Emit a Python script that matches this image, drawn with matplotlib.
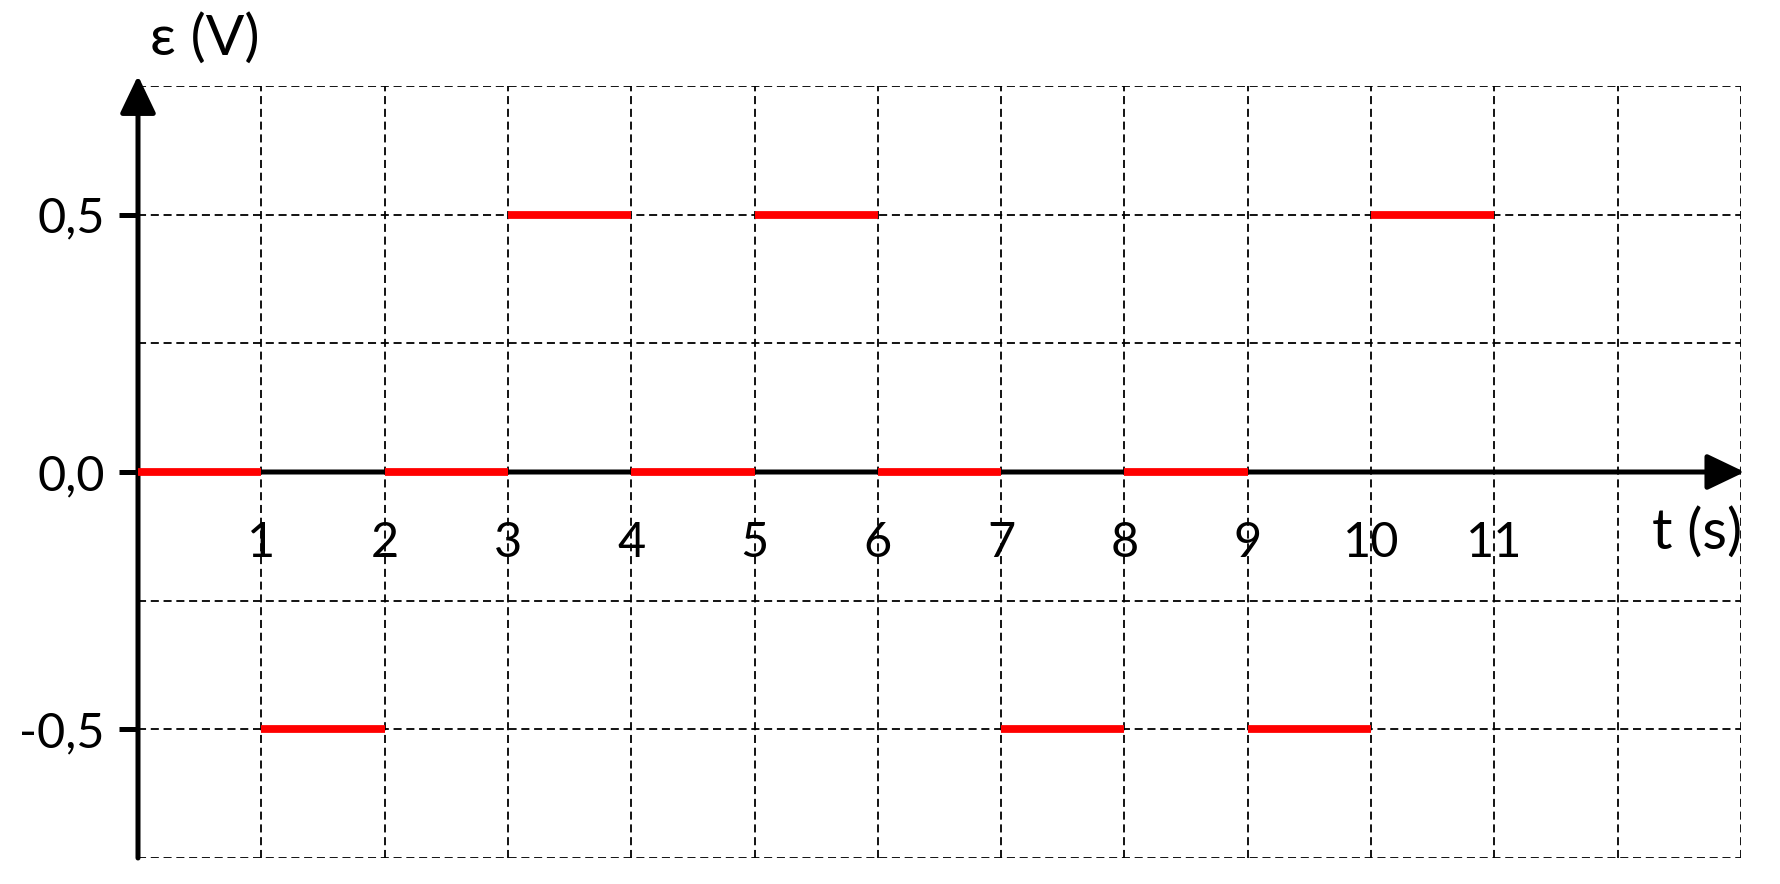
import numpy as np
import matplotlib.pyplot as plt

plt.rcParams['font.family'] = ['Lato', 'DejaVu Sans']
plt.rcParams['lines.scale_dashes'] = False

# segments of the emf, one per second
t_start = [0, 1, 2, 3, 4, 5, 6, 7, 8, 9, 10]
t_end = [1, 2, 3, 4, 5, 6, 7, 8, 9, 10, 11]
emf = [0, -0.5, 0, 0.5, 0, 0.5, 0, -0.5, 0, -0.5, 0.5]

x_ticks = [1, 2, 3, 4, 5, 6, 7, 8, 9, 10, 11]
x_labels = ["1", "2", "3", "4", "5", "6", "7", "8", "9", "10", "11"]
y_ticks = [-0.5, 0.0, 0.5]
y_labels = ["-0,5", "0,0", "0,5"]

fig = plt.figure(figsize=(17.8, 8.84), dpi=100)
W, H = 1780, 884
x0, x1 = 138, 1741
ax = fig.add_axes([x0 / W, (H - 858) / H, (x1 - x0) / W, (858 - 86) / H])
ax.set_xlim(0, 13)
ax.set_ylim(-0.75, 0.75)

for s in ['top', 'right']:
    ax.spines[s].set_visible(False)
ax.spines['left'].set_position(('data', 0))
ax.spines['bottom'].set_position(('data', 0))
ax.spines['left'].set_color('none')
ax.spines['bottom'].set_color('none')

# dashed grid on minor ticks (overlapping locs kept)
ax.xaxis.remove_overlapping_locs = False
ax.yaxis.remove_overlapping_locs = False
ax.set_xticks(np.arange(1, 14), minor=True)
ax.set_yticks([-0.75, -0.5, -0.25, 0.25, 0.5, 0.75], minor=True)
ax.grid(which='minor', color='black', lw=1.3, linestyle=(0, (5.8, 3.4)))
ax.grid(which='major', visible=False)
ax.tick_params(which='minor', length=0)

ax.set_xticks(x_ticks)
ax.set_xticklabels(x_labels)
ax.set_yticks(y_ticks)
ax.set_yticklabels(y_labels)
ax.tick_params(axis='x', which='major', length=0, pad=35, labelsize=35)
ax.tick_params(axis='y', which='major', length=0, pad=24, labelsize=35)

# short tick marks left of the vertical axis
tick_len = 19 / ((x1 - x0) / 13)
ax.hlines(y_ticks, -tick_len, 0, colors='black', lw=3.6, clip_on=False,
          zorder=4)

# axes as arrows
arr = dict(arrowstyle='-|>,head_length=1.15,head_width=0.55', lw=3.6,
           color='black', mutation_scale=20, shrinkA=0, shrinkB=0)
ax.annotate('', xy=(13.03, 0), xytext=(0, 0), arrowprops=arr,
            annotation_clip=False, zorder=4)
ax.annotate('', xy=(0, 0.77), xytext=(0, -0.75), arrowprops=arr,
            annotation_clip=False, zorder=4)

ax.hlines(emf, t_start, t_end, colors='#ff0000', lw=5.6, zorder=5,
          capstyle='butt', clip_on=False)

fig.text(150 / W, (H - 55) / H, "ε (V)", fontsize=41, ha='left', va='baseline')
fig.text(1742 / W, (H - 549) / H, "t (s)", fontsize=41, ha='right', va='baseline')

fig.savefig('out.png', dpi=100, facecolor='white')
